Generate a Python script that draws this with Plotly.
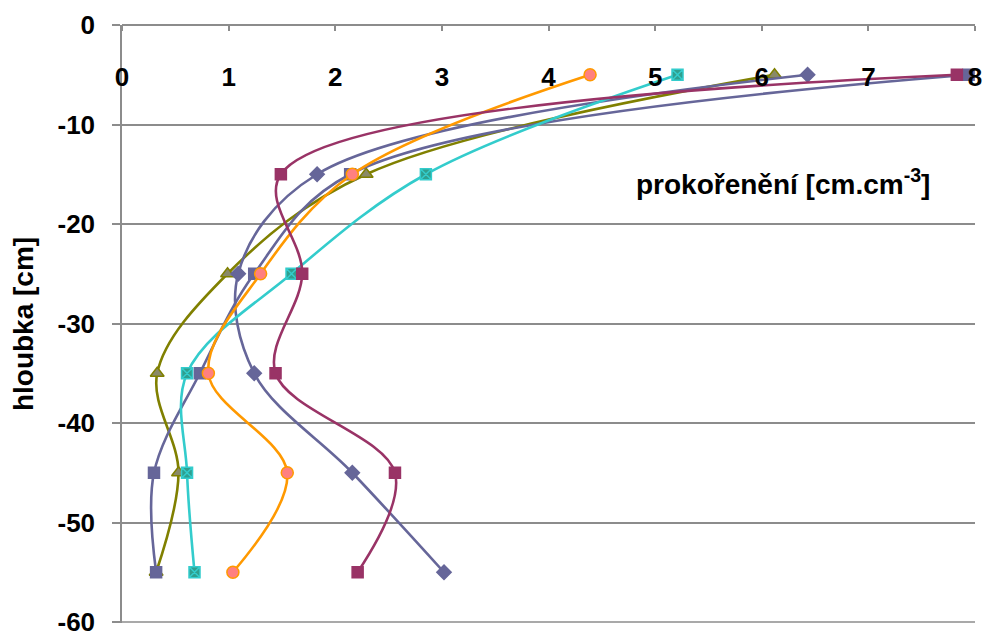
import plotly.graph_objects as go

# depth levels (cm, plotted as negative)
depth = [-5, -15, -25, -35, -45, -55]

# root length density for each profile [cm.cm^-3]
profile_a = [7.94, 2.14, 1.24, 0.73, 0.30, 0.32]   # squares, blue-grey
profile_b = [6.43, 1.83, 1.09, 1.24, 2.16, 3.02]   # diamonds
profile_c = [6.12, 2.29, 0.99, 0.33, 0.53, 0.32]   # triangles
profile_d = [5.21, 2.85, 1.59, 0.61, 0.61, 0.68]   # crossed squares
profile_e = [4.39, 2.16, 1.30, 0.81, 1.55, 1.04]   # circles
profile_f = [7.83, 1.49, 1.69, 1.44, 2.56, 2.21]   # squares, maroon

x_ticks = [0, 1, 2, 3, 4, 5, 6, 7, 8]
y_ticks = [0, -10, -20, -30, -40, -50, -60]

FONT = "Liberation Sans"
GRID = "#8c8c8c"

series = [
    dict(x=profile_c, line="#808000", symbol="triangle-up", fill="#8a8a68", edge="#808000", size=12),
    dict(x=profile_a, line="#666699", symbol="square", fill="#666699", edge="#666699", size=11),
    dict(x=profile_b, line="#666699", symbol="diamond", fill="#666699", edge="#666699", size=11),
    dict(x=profile_d, line="#33CCCC", symbol="square-x", fill="#2f9f8f", edge="#33CCCC", size=11),
    dict(x=profile_e, line="#FF9900", symbol="circle", fill="#FF8080", edge="#FF9900", size=12),
    dict(x=profile_f, line="#993366", symbol="square", fill="#993366", edge="#993366", size=11),
]

fig = go.Figure()
for s in series:
    fig.add_trace(go.Scatter(
        x=s["x"], y=depth, mode="lines+markers",
        line=dict(color=s["line"], width=2.6, shape="spline", smoothing=1),
        marker=dict(symbol=s["symbol"], size=s["size"], color=s["fill"],
                    line=dict(color=s["edge"], width=1.5)),
        showlegend=False, cliponaxis=False,
    ))

# bottom gridline sits on the edge of the plot area, so draw it explicitly
fig.add_shape(type="line", xref="x domain", yref="y", x0=0, x1=1,
              y0=y_ticks[-1], y1=y_ticks[-1], layer="below",
              line=dict(color=GRID, width=1.5))

fig.add_annotation(
    x=6.2, y=-15.8, xref="x", yref="y", showarrow=False,
    text="<b>prokořenění [cm.cm<sup>-3</sup>]</b>",
    font=dict(family=FONT, size=28, color="black"),
)

fig.update_layout(
    width=984, height=637,
    margin=dict(l=122, r=9, t=25, b=14),
    paper_bgcolor="white", plot_bgcolor="white",
    font=dict(family=FONT, color="black"),
    xaxis=dict(
        range=[0, 8], tickvals=x_ticks, ticktext=[f"<b>{v}</b>" for v in x_ticks],
        showgrid=False, zeroline=False, automargin=False,
        showline=True, linecolor=GRID, linewidth=1.5,
        anchor="free", position=1, side="bottom",
        ticks="outside", ticklen=5, tickcolor=GRID, tickwidth=1.5,
        ticklabelstandoff=24, ticklabeloverflow="allow",
        tickfont=dict(family=FONT, size=26, color="black"),
    ),
    yaxis=dict(
        range=[-60.1, 0], tickvals=y_ticks, ticktext=[f"<b>{v}</b>" for v in y_ticks],
        showgrid=True, gridcolor=GRID, gridwidth=1.5, zeroline=False, automargin=False,
        showline=True, linecolor=GRID, linewidth=1.5,
        ticks="outside", ticklen=8, tickcolor=GRID, tickwidth=1.5,
        ticklabelstandoff=12, ticklabeloverflow="allow",
        tickfont=dict(family=FONT, size=26, color="black"),
        title=dict(text="<b>hloubka [cm]</b>", standoff=16,
                   font=dict(family=FONT, size=28, color="black")),
    ),
)

fig.write_html("out.html")
